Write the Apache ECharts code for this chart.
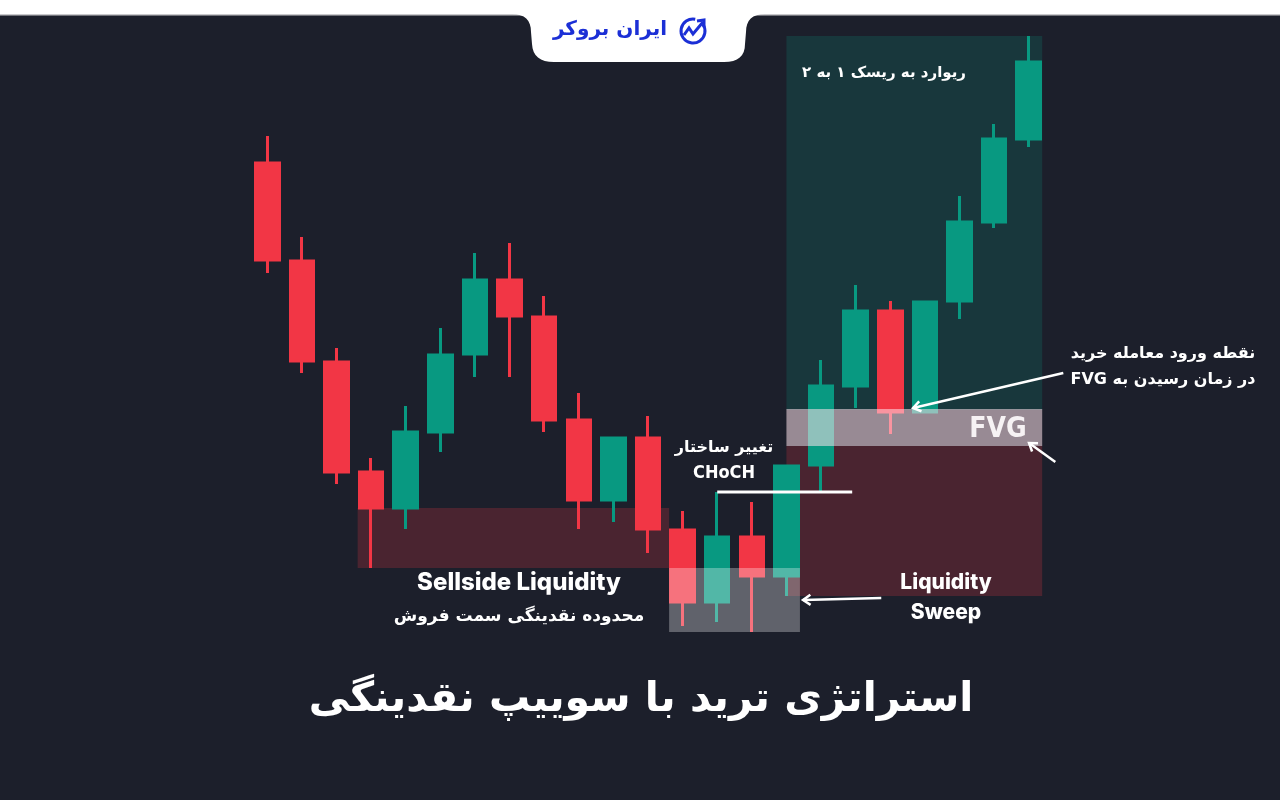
<!DOCTYPE html>
<html>
<head>
<meta charset="utf-8">
<script src="https://cdn.jsdelivr.net/npm/echarts@6/dist/echarts.min.js"></script>
<style>
  html, body { margin: 0; padding: 0; background: #1c1f2b; }
  #chart { width: 1280px; height: 800px; }
</style>
</head>
<body>
<div id="chart" dir="rtl"></div>
<script>
// candles, price units (higher = up)
const candles = ['c1','c2','c3','c4','c5','c6','c7','c8','c9','c10','c11','c12',
  'c13','c14','c15','c16','c17','c18','c19','c20','c21','c22','c23'];
const opens  = [637, 539, 438, 328, 292, 368, 446, 520, 483, 380, 300, 362, 270, 198, 263, 224, 335, 414, 489, 388, 499, 578, 661];
const closes = [540, 439, 328, 292, 368, 445, 520, 484, 380, 300, 362, 271, 198, 263, 224, 334, 414, 489, 388, 498, 578, 661, 738];
const lows   = [527, 427, 316, 232, 271, 348, 423, 423, 368, 271, 278, 247, 174, 178, 168, 204, 307, 392, 366, 388, 481, 572, 653];
const highs  = [664, 563, 452, 342, 394, 472, 547, 557, 504, 407, 362, 384, 289, 308, 298, 334, 440, 515, 499, 498, 604, 676, 764];

// zones: [x from, x to, price low, price high] in candle index units
const zonesBack = [
  [2.61, 11.61, 232, 292],   // sellside liquidity
  [15.0, 22.39, 390, 764],   // reward
  [15.0, 22.39, 204, 354]    // risk
];
const zonesBackColors = ['rgba(242,54,69,0.22)', 'rgba(8,153,129,0.2)', 'rgba(242,54,69,0.22)'];
const zonesFront = [
  [11.61, 15.39, 168, 232],  // sweep
  [15.0, 22.39, 354, 391]    // FVG
];
const zonesFrontColors = ['rgba(255,255,255,0.3)', 'rgba(255,225,235,0.55)'];

// choch level
const chochLine = [[13, 308], [16.9, 308]];
// arrows: [x tail, price tail, x head, price head]
const arrows = [
  [17.74, 202, 15.48, 200],
  [23.0, 427, 18.66, 392],
  [22.77, 338, 22.01, 357]
];

const up = '#089981';
const down = '#f23645';
const fa = '"DejaVu Sans", sans-serif';
const latin = 'Inter, "Open Sans", sans-serif';
const cond = '"DejaVu Sans Condensed", sans-serif';

const chart = echarts.init(document.getElementById('chart'));

function zoneSeries(data, colors, z) {
  return {
    type: 'custom',
    xAxisIndex: 1,
    z: z,
    silent: true,
    data: data,
    encode: { x: [0, 1], y: [2, 3] },
    renderItem: (params, api) => {
      const p0 = api.coord([api.value(0), api.value(3)]);
      const p1 = api.coord([api.value(1), api.value(2)]);
      return {
        type: 'rect',
        shape: { x: p0[0], y: p0[1], width: p1[0] - p0[0], height: p1[1] - p0[1] },
        style: { fill: colors[params.dataIndex] }
      };
    }
  };
}

function text(t, x, y, size, opts = {}) {
  return {
    type: 'text',
    z: 100,
    style: {
      text: t, x: x, y: y,
      fill: opts.fill || '#ffffff',
      font: (opts.weight || 'bold') + ' ' + size + 'px ' + (opts.family || fa),
      textAlign: opts.align || 'center',
      textVerticalAlign: 'middle'
    }
  };
}

// logo tab outline
function quad(p0, c, p1, n) {
  const pts = [];
  for (let i = 0; i <= n; i++) {
    const t = i / n;
    pts.push([(1-t)*(1-t)*p0[0] + 2*(1-t)*t*c[0] + t*t*p1[0],
              (1-t)*(1-t)*p0[1] + 2*(1-t)*t*c[1] + t*t*p1[1]]);
  }
  return pts;
}
const tabPts = [].concat(
  quad([512, 14], [531, 14], [531, 32], 8),
  quad([532, 44], [533, 62], [554, 62], 8),
  quad([724, 62], [745, 62], [745, 44], 8),
  quad([746, 32], [746, 14], [765, 14], 8)
);

chart.setOption({
  backgroundColor: '#1c1f2b',
  animation: false,
  grid: { left: 250, width: 796, top: 0, height: 800 },
  xAxis: [
    { type: 'category', data: candles, show: false },
    { type: 'value', min: -0.5, max: 22.5, show: false }
  ],
  yAxis: { type: 'value', min: 0, max: 800, show: false },
  series: [
    zoneSeries(zonesBack, zonesBackColors, 1),
    {
      type: 'candlestick',
      z: 3,
      barWidth: 24,
      data: candles.map((c, i) => [opens[i], closes[i], lows[i], highs[i]]),
      itemStyle: {
        color: up, color0: down,
        borderColor: up, borderColor0: down,
        borderWidth: 3
      }
    },
    zoneSeries(zonesFront, zonesFrontColors, 5),
    {
      type: 'line',
      xAxisIndex: 1,
      z: 6,
      data: chochLine,
      symbol: 'none',
      lineStyle: { color: '#ffffff', width: 3 }
    },
    {
      type: 'custom',
      xAxisIndex: 1,
      z: 7,
      clip: false,
      data: arrows,
      renderItem: (params, api) => {
        const a = api.coord([api.value(0), api.value(1)]);
        const b = api.coord([api.value(2), api.value(3)]);
        const ang = Math.atan2(a[1] - b[1], a[0] - b[0]);
        const L = 9, w = 0.6;
        const h1 = [b[0] + L * Math.cos(ang + w), b[1] + L * Math.sin(ang + w)];
        const h2 = [b[0] + L * Math.cos(ang - w), b[1] + L * Math.sin(ang - w)];
        return {
          type: 'group',
          children: [
            { type: 'line', shape: { x1: a[0], y1: a[1], x2: b[0], y2: b[1] },
              style: { stroke: '#ffffff', lineWidth: 2.5 } },
            { type: 'polyline', shape: { points: [h1, b, h2] },
              style: { stroke: '#ffffff', lineWidth: 2.5, fill: null } }
          ]
        };
      }
    }
  ],
  graphic: [
    { type: 'rect', z: 90, shape: { x: 0, y: 0, width: 1280, height: 15 }, style: { fill: '#ffffff' } },
    { type: 'rect', z: 90, shape: { x: 0, y: 14, width: 1280, height: 1.5 }, style: { fill: '#c9c9cc' } },
    { type: 'polygon', z: 91, shape: { points: tabPts }, style: { fill: '#ffffff' } },
    text('ایران بروکر', 610, 30, 20, { fill: '#1b2fd6' }),
    {
      type: 'arc', z: 100,
      shape: { cx: 693, cy: 31, r: 12, startAngle: -0.6, endAngle: 4.9 },
      style: { stroke: '#1b2fd6', lineWidth: 3, fill: null }
    },
    {
      type: 'polyline', z: 100,
      shape: { points: [[684, 35], [689, 28], [693, 34], [703, 22]] },
      style: { stroke: '#1b2fd6', lineWidth: 3, fill: null }
    },
    {
      type: 'polyline', z: 100,
      shape: { points: [[697, 21], [704, 20], [704, 27]] },
      style: { stroke: '#1b2fd6', lineWidth: 3, fill: null }
    },
    text('ریوارد به ریسک ۱ به ۲', 884, 73, 15),
    text('نقطه ورود معامله خرید', 1163, 354, 16),
    text('در زمان رسیدن به FVG', 1163, 380, 16),
    text('FVG', 998, 430, 28, { fill: '#f6f2f4', family: cond }),
    text('تغییر ساختار', 724, 448, 16),
    text('CHoCH', 724, 473, 18, { family: cond }),
    text('Liquidity', 946, 583, 21, { family: latin, weight: 800 }),
    text('Sweep', 946, 613, 21, { family: latin, weight: 800 }),
    text('Sellside Liquidity', 519, 583, 24, { family: latin, weight: 800 }),
    text('محدوده نقدینگی سمت فروش', 519, 617, 17),
    text('استراتژی ترید با سوییپ نقدینگی', 641, 700, 41)
  ]
});
</script>
</body>
</html>
